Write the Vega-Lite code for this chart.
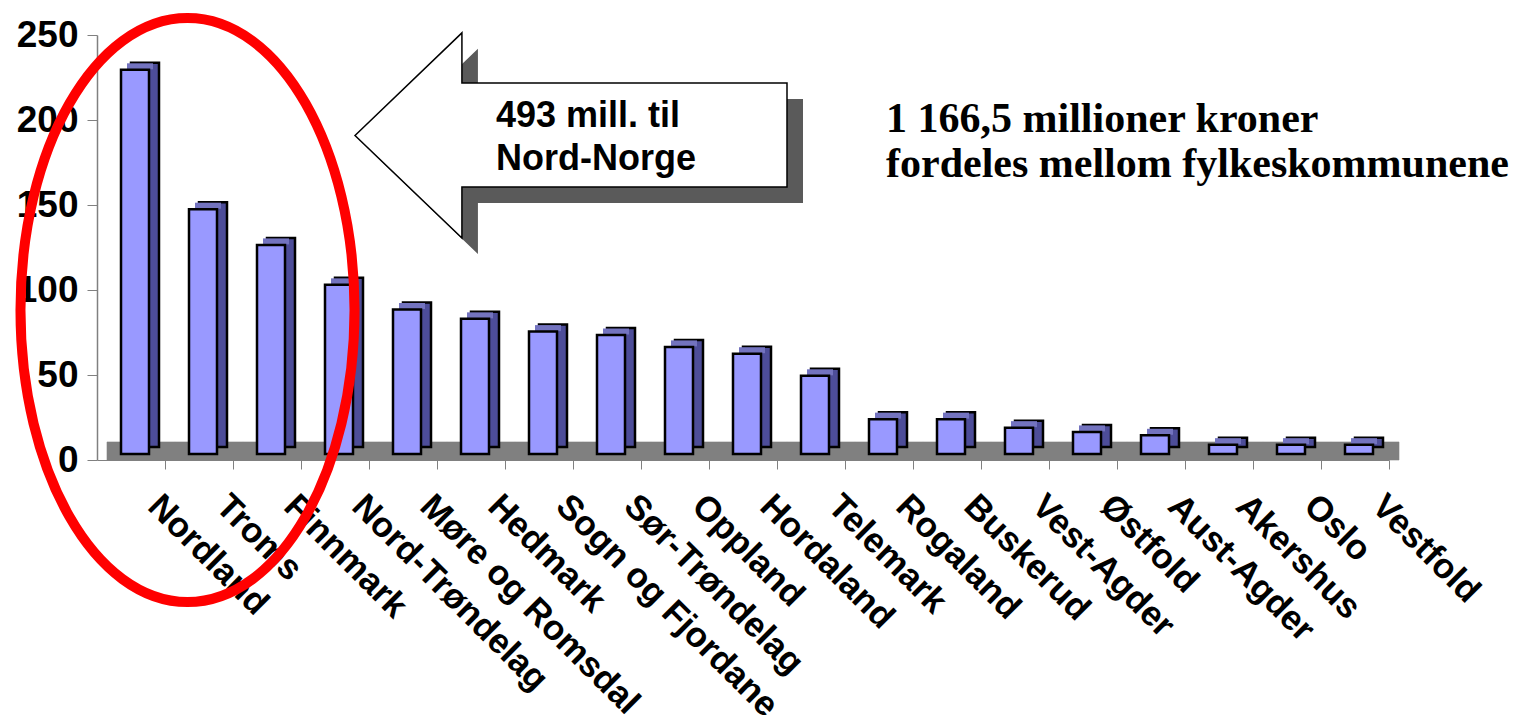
{
  "$schema": "https://vega.github.io/schema/vega-lite/v6.json",
  "autosize": "none",
  "width": 1292,
  "height": 425,
  "padding": {"left": 97, "top": 35, "right": 137, "bottom": 255},
  "background": "white",
  "config": {
    "view": {"stroke": null},
    "font": "Liberation Sans",
    "axisY": {
      "labelFont": "Liberation Sans",
      "labelFontSize": 37,
      "labelFontWeight": "bold",
      "labelColor": "black",
      "labelPadding": 9,
      "tickSize": 10,
      "tickColor": "#808080",
      "domainColor": "#808080",
      "domainWidth": 1.5,
      "grid": false,
      "labelOverlap": false
    }
  },
  "data": {
    "values": [
      {"fylke": "Nordland", "mill": 226},
      {"fylke": "Troms", "mill": 144},
      {"fylke": "Finnmark", "mill": 123},
      {"fylke": "Nord-Trøndelag", "mill": 99.5},
      {"fylke": "Møre og Romsdal", "mill": 85},
      {"fylke": "Hedmark", "mill": 79.5},
      {"fylke": "Sogn og Fjordane", "mill": 72},
      {"fylke": "Sør-Trøndelag", "mill": 70},
      {"fylke": "Oppland", "mill": 63},
      {"fylke": "Hordaland", "mill": 59},
      {"fylke": "Telemark", "mill": 46},
      {"fylke": "Rogaland", "mill": 20.5},
      {"fylke": "Buskerud", "mill": 20.5},
      {"fylke": "Vest-Agder", "mill": 15.5},
      {"fylke": "Østfold", "mill": 13},
      {"fylke": "Aust-Agder", "mill": 11},
      {"fylke": "Akershus", "mill": 5.5},
      {"fylke": "Oslo", "mill": 5.5},
      {"fylke": "Vestfold", "mill": 5.5}
    ]
  },
  "encoding": {
    "x": {
      "field": "fylke",
      "type": "nominal",
      "sort": null,
      "scale": {"type": "band", "paddingInner": 0, "paddingOuter": 0},
      "axis": {
        "title": null,
        "bandPosition": 1,
        "labelAngle": 45,
        "labelAlign": "left",
        "labelBaseline": "top",
        "labelFont": "Liberation Sans",
        "labelFontSize": 35,
        "labelFontWeight": "bold",
        "labelColor": "black",
        "labelPadding": 19,
        "labelOffset": 35,
        "labelLimit": 500,
        "labelOverlap": false,
        "tickSize": 9,
        "tickColor": "#808080",
        "domainColor": "#808080",
        "grid": false
      }
    }
  },
  "layer": [
    {
      "mark": {"type": "bar", "color": "#808080", "xOffset": 10, "stroke": "#808080", "strokeWidth": 0.6},
      "encoding": {
        "y": {"datum": 10.6, "type": "quantitative", "scale": {"domain": [0, 250], "nice": false, "zero": true}, "axis": {"title": null, "values": [0, 50, 100, 150, 200, 250]}},
        "y2": {"datum": 0}
      }
    },
    {
      "mark": {"type": "bar", "width": 28, "xOffset": 14, "yOffset": -13, "y2Offset": -13, "fill": "#4d4d99", "stroke": "black", "strokeWidth": 2.5},
      "encoding": {
        "y": {"field": "mill", "type": "quantitative", "scale": {"domain": [0, 250], "nice": false, "zero": true}, "axis": {"title": null, "values": [0, 50, 100, 150, 200, 250]}}
      }
    },
    {
      "mark": {"type": "tick", "size": 26, "thickness": 6, "xOffset": 9, "yOffset": -9.5, "color": "#7373bf", "opacity": 1},
      "encoding": {
        "y": {"field": "mill", "type": "quantitative", "scale": {"domain": [0, 250], "nice": false, "zero": true}, "axis": {"title": null, "values": [0, 50, 100, 150, 200, 250]}}
      }
    },
    {
      "mark": {"type": "bar", "width": 28, "xOffset": 4, "yOffset": -6, "y2Offset": -6, "fill": "#9999ff", "stroke": "black", "strokeWidth": 2.5},
      "encoding": {
        "y": {"field": "mill", "type": "quantitative", "scale": {"domain": [0, 250], "nice": false, "zero": true}, "axis": {"title": null, "values": [0, 50, 100, 150, 200, 250]}}
      }
    },
    {
      "data": {"values": [{"shape": "arrow"}]},
      "mark": {"type": "point", "shape": "M-1,0L-0.505,-0.475L-0.505,-0.243L1,-0.243L1,0.238L-0.505,0.238L-0.505,0.475Z", "size": 186624, "filled": true, "fill": "#5a5a5a", "stroke": null, "opacity": 1, "xOffset": 48, "yOffset": 16},
      "encoding": {
        "x": {"datum": "Sogn og Fjordane", "type": "nominal"},
        "y": {"datum": 190.9, "type": "quantitative", "axis": {"title": null, "values": [0, 50, 100, 150, 200, 250]}}
      }
    },
    {
      "data": {"values": [{"shape": "arrow"}]},
      "mark": {"type": "point", "shape": "M-1,0L-0.505,-0.475L-0.505,-0.243L1,-0.243L1,0.238L-0.505,0.238L-0.505,0.475Z", "size": 186624, "filled": true, "fill": "white", "stroke": "black", "strokeWidth": 1.5, "opacity": 1, "xOffset": 32},
      "encoding": {
        "x": {"datum": "Sogn og Fjordane", "type": "nominal"},
        "y": {"datum": 190.9, "type": "quantitative", "axis": {"title": null, "values": [0, 50, 100, 150, 200, 250]}}
      }
    },
    {
      "data": {"values": [{"note": "arrow"}]},
      "mark": {"type": "text", "text": ["493 mill. til", "Nord-Norge"], "align": "left", "baseline": "alphabetic", "font": "Liberation Sans", "fontSize": 36, "fontWeight": "bold", "lineHeight": 43, "color": "black", "xOffset": 25},
      "encoding": {
        "x": {"datum": "Hedmark", "type": "nominal"},
        "y": {"datum": 195.9, "type": "quantitative", "axis": {"title": null, "values": [0, 50, 100, 150, 200, 250]}}
      }
    },
    {
      "data": {"values": [{"note": "total"}]},
      "mark": {"type": "text", "text": ["1 166,5 millioner kroner", "fordeles mellom fylkeskommunene"], "align": "left", "baseline": "alphabetic", "font": "Liberation Serif", "fontSize": 42, "fontWeight": "bold", "lineHeight": 45, "color": "black", "xOffset": 7},
      "encoding": {
        "x": {"datum": "Rogaland", "type": "nominal"},
        "y": {"datum": 192.9, "type": "quantitative", "axis": {"title": null, "values": [0, 50, 100, 150, 200, 250]}}
      }
    },
    {
      "data": {"values": [{"shape": "ellipse"}]},
      "mark": {"type": "point", "shape": "M0.572,0C0.572,0.5523,0.3159,1,0,1C-0.3159,1,-0.572,0.5523,-0.572,0C-0.572,-0.5523,-0.3159,-1,0,-1C0.3159,-1,0.572,-0.5523,0.572,0Z", "size": 341056, "filled": false, "fill": null, "stroke": "#ff0000", "strokeWidth": 10, "opacity": 1, "xOffset": 56.5},
      "encoding": {
        "x": {"datum": "Nordland", "type": "nominal"},
        "y": {"datum": 88.2, "type": "quantitative", "axis": {"title": null, "values": [0, 50, 100, 150, 200, 250]}}
      }
    }
  ]
}
